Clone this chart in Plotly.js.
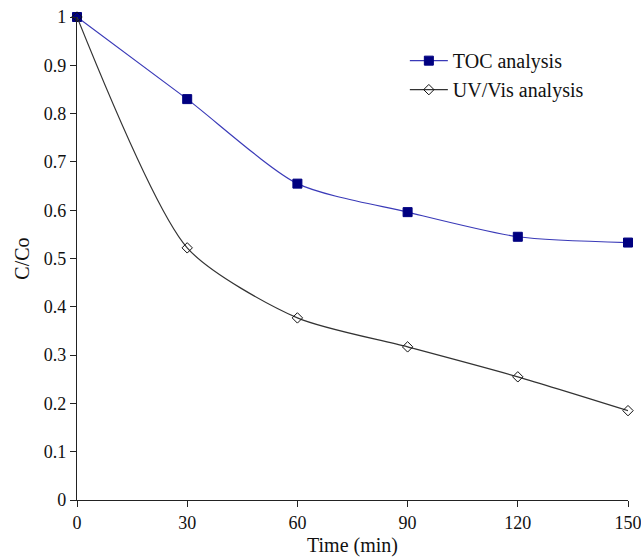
<!DOCTYPE html>
<html><head><meta charset="utf-8">
<script src="https://cdn.plot.ly/plotly-3.0.1.min.js"></script>
<style>body{margin:0;background:#fff}#c{width:641px;height:558px}</style>
</head><body><div id="c"></div>
<script>
const time = [0, 30, 60, 90, 120, 150];
const tocValues = [1, 0.83, 0.655, 0.596, 0.545, 0.533];
const uvVisValues = [1, 0.522, 0.377, 0.317, 0.255, 0.185];
const xTicks = [0, 30, 60, 90, 120, 150];
const yTicks = [0, 0.1, 0.2, 0.3, 0.4, 0.5, 0.6, 0.7, 0.8, 0.9, 1];
const yTickLabels = ['0', '0.1', '0.2', '0.3', '0.4', '0.5', '0.6', '0.7', '0.8', '0.9', '1'];

const fam = 'Liberation Serif, Times New Roman, serif';
const tickFont = {family: fam, size: 18, color: '#111'};
const titleFont = {family: fam, size: 20, color: '#111'};
const traces = [
  {x: time, y: tocValues, name: 'TOC analysis', mode: 'lines+markers',
   line: {color: '#3a3ab8', width: 1.2, shape: 'spline', smoothing: 0.7},
   marker: {symbol: 'square', size: 9, color: '#000080', line: {color: '#000080', width: 1}},
   cliponaxis: false},
  {x: time, y: uvVisValues, name: 'UV/Vis analysis', mode: 'lines+markers',
   line: {color: '#333', width: 1.2, shape: 'spline', smoothing: 0.7},
   marker: {symbol: 'diamond-open', size: 8, color: '#111', line: {color: '#111', width: 1}},
   cliponaxis: false}
];
const layout = {
  width: 641, height: 558,
  margin: {l: 77, r: 13, t: 17, b: 58},
  paper_bgcolor: '#fff', plot_bgcolor: '#fff',
  font: tickFont,
  showlegend: true,
  legend: {x: 0.595, y: 0.95, xanchor: 'left', yanchor: 'top', font: {family: fam, size: 20, color: '#111'},
    bgcolor: 'rgba(0,0,0,0)', tracegroupgap: 0, itemwidth: 38},
  xaxis: {range: [0, 150], tickvals: xTicks, ticktext: xTicks.map(String), ticks: 'outside', ticklen: 6,
    tickcolor: '#222', showline: true, linecolor: '#222', linewidth: 1.2, showgrid: false, zeroline: false,
    ticklabeloverflow: 'allow', automargin: false,
    tickfont: tickFont, title: {text: 'Time (min)', font: titleFont, standoff: 6}},
  yaxis: {range: [0, 1], tickvals: yTicks, ticktext: yTickLabels, ticks: 'outside', ticklen: 6,
    tickcolor: '#222', showline: true, linecolor: '#222', linewidth: 1.2, showgrid: false, zeroline: false,
    ticklabeloverflow: 'allow', automargin: false,
    tickfont: tickFont, title: {text: 'C/Co', font: titleFont, standoff: 8}}
};
Plotly.newPlot('c', traces, layout, {displayModeBar: false, staticPlot: true});
</script></body></html>
